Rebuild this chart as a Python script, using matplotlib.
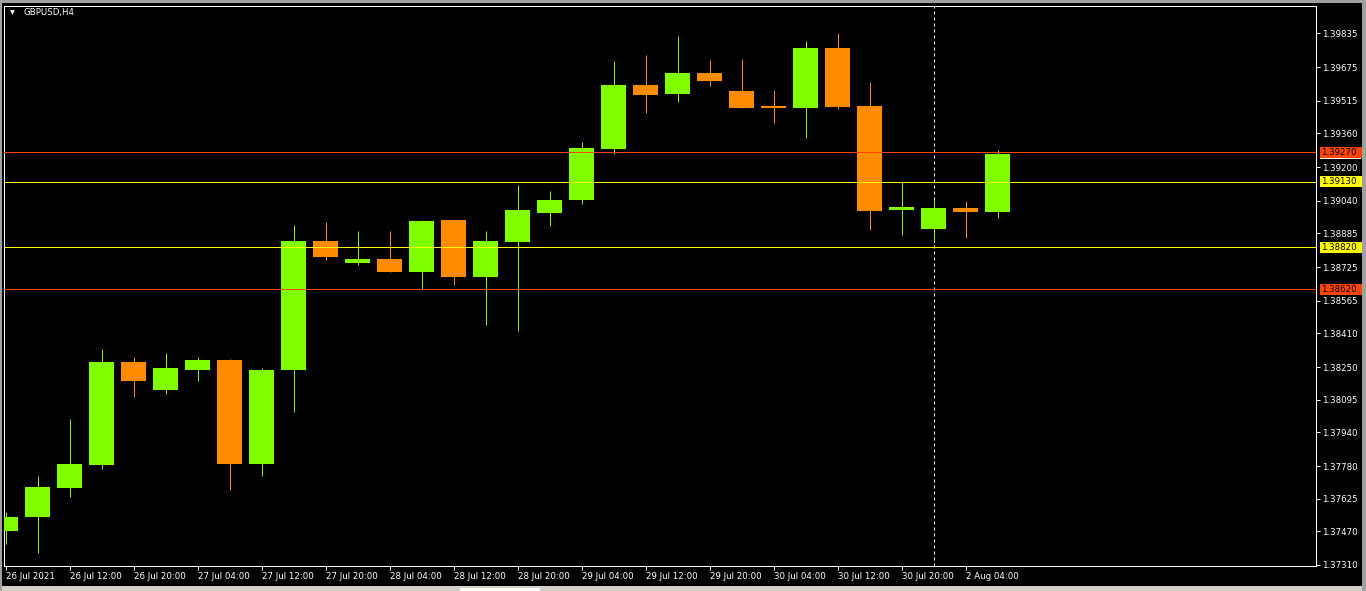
import matplotlib
matplotlib.use('Agg')
import matplotlib.pyplot as plt
import matplotlib.transforms as mtransforms
from matplotlib.patches import Rectangle
from matplotlib import font_manager

# GBPUSD H4 candles, 26 Jul 04:00 .. 2 Aug 08:00
opens  = [1.37471, 1.37538, 1.37676, 1.37785, 1.38274, 1.38141, 1.38236, 1.38284,
          1.37790, 1.38236, 1.38849, 1.38744, 1.38763, 1.38702, 1.38948, 1.38678,
          1.38844, 1.38982, 1.39043, 1.39286, 1.39590, 1.39547, 1.39647, 1.39561,
          1.39490, 1.39480, 1.39765, 1.39490, 1.38996, 1.38906, 1.39005, 1.38986]
highs  = [1.37562, 1.37733, 1.38003, 1.38336, 1.38298, 1.38317, 1.38298, 1.38288,
          1.38246, 1.38925, 1.38939, 1.38896, 1.38896, 1.38948, 1.38948, 1.38896,
          1.39115, 1.39086, 1.39319, 1.39704, 1.39732, 1.39822, 1.39708, 1.39713,
          1.39566, 1.39799, 1.39837, 1.39604, 1.39129, 1.39048, 1.39039, 1.39281]
lows   = [1.37410, 1.37367, 1.37633, 1.37766, 1.38108, 1.38122, 1.38184, 1.37666,
          1.37733, 1.38037, 1.38758, 1.38735, 1.38702, 1.38621, 1.38640, 1.38450,
          1.38421, 1.38920, 1.39024, 1.39262, 1.39457, 1.39509, 1.39585, 1.39480,
          1.39409, 1.39338, 1.39476, 1.38901, 1.38877, 1.38844, 1.38863, 1.38958]
closes = [1.37538, 1.37680, 1.37790, 1.38274, 1.38184, 1.38246, 1.38284, 1.37790,
          1.38236, 1.38849, 1.38773, 1.38763, 1.38702, 1.38944, 1.38678, 1.38849,
          1.38996, 1.39043, 1.39290, 1.39590, 1.39542, 1.39647, 1.39609, 1.39480,
          1.39480, 1.39765, 1.39485, 1.38991, 1.39010, 1.39005, 1.38986, 1.39262]

time_labels = ['26 Jul 2021', '26 Jul 12:00', '26 Jul 20:00', '27 Jul 04:00',
               '27 Jul 12:00', '27 Jul 20:00', '28 Jul 04:00', '28 Jul 12:00',
               '28 Jul 20:00', '29 Jul 04:00', '29 Jul 12:00', '29 Jul 20:00',
               '30 Jul 04:00', '30 Jul 12:00', '30 Jul 20:00', '2 Aug 04:00']
price_ticks = [1.39835, 1.39675, 1.39515, 1.39360, 1.39200, 1.39040, 1.38885,
               1.38725, 1.38565, 1.38410, 1.38250, 1.38095, 1.37940, 1.37780,
               1.37625, 1.37470, 1.37310]

level_prices = [1.39270, 1.39130, 1.38820, 1.38620]
level_colors = ['#ff4500', '#ffff00', '#ffff00', '#ff4500']
separator_bar = 29

BULL = '#7fff00'
BEAR = '#ff8c00'

names = {f.name for f in font_manager.fontManager.ttflist}
if 'Liberation Sans Narrow' in names:
    FONT, FS = 'Liberation Sans Narrow', 6.9
else:
    FONT, FS = 'DejaVu Sans', 6.2
plt.rcParams['font.family'] = [FONT, 'DejaVu Sans']

W, H = 1366, 591
fig = plt.figure(figsize=(W / 100, H / 100), dpi=100)
fig.patch.set_facecolor('black')

# plot area in pixels
L, R, T, B = 4, 1316, 6, 566
ax = fig.add_axes([L / W, 1 - B / H, (R - L) / W, (B - T) / H])
ax.set_facecolor('black')

px = 0.72  # one pixel in points
for sp in ax.spines.values():
    sp.set_color('white')
    sp.set_linewidth(px)

n = len(opens)
for i in range(n):
    o, h, l, c = opens[i], highs[i], lows[i], closes[i]
    col = BULL if c >= o else BEAR
    ax.vlines(i, l, h, color=col, linewidth=px, zorder=2)
    lo, hi = min(o, c), max(o, c)
    ax.add_patch(Rectangle((i - 0.39, lo), 0.78, max(hi - lo, 0.00002),
                           facecolor=col, edgecolor='none', zorder=3))

ax.axvline(separator_bar, color='white', linewidth=px, linestyle=(0, (3, 3)), zorder=1)

blend = mtransforms.blended_transform_factory(ax.transAxes, ax.transData)
axw = R - L
for p, col in zip(level_prices, level_colors):
    ax.axhline(p, color=col, linewidth=px, zorder=4)

# bid label peeking out below the top level
ax.add_patch(Rectangle(((1320 - L) / axw, 1.39236), 41 / axw, 0.00011,
                       transform=blend, facecolor='white', edgecolor='none',
                       clip_on=False, zorder=5))
for p, col in zip(level_prices, level_colors):
    ax.add_patch(Rectangle(((1320 - L) / axw, p - 0.00026), 42 / axw, 0.00052,
                           transform=blend, facecolor=col, edgecolor='none',
                           clip_on=False, zorder=6))
    ax.text((1321 - L) / axw, p, '%.5f' % p, transform=blend, color='black',
            fontsize=FS, va='center', ha='left', clip_on=False, zorder=7)

ax.set_xlim((L - 5.5) / 32, (R - 5.5) / 32)
ax.set_ylim(1.37305, 1.39965)

ax.yaxis.tick_right()
ax.set_yticks(price_ticks)
ax.set_yticklabels(['%.5f' % p for p in price_ticks])
ax.tick_params(axis='y', colors='white', labelsize=FS, length=3, width=px, pad=1.5)

ax.set_xticks(range(0, 2 * len(time_labels), 2))
ax.set_xticklabels(time_labels)
ax.tick_params(axis='x', colors='white', labelsize=FS, length=3, width=px, pad=1.5)
for lab in ax.get_xticklabels():
    lab.set_ha('left')

# symbol caption
ax.text(6 / axw, 1 - 7 / (B - T), '\u25bc', transform=ax.transAxes, color='white',
        fontsize=4.5, va='center', ha='left', family='DejaVu Sans')
ax.text(19 / axw, 1 - 7 / (B - T), 'GBPUSD,H4', transform=ax.transAxes, color='white',
        fontsize=FS, va='center', ha='left')

# window frame bits
fig.patches.append(Rectangle((0, 0), 1, 5 / H, transform=fig.transFigure,
                             facecolor='#d4d0c8', edgecolor='none'))
fig.patches.append(Rectangle((460 / W, 0), 80 / W, 3 / H, transform=fig.transFigure,
                             facecolor='white', edgecolor='none'))
fig.patches.append(Rectangle((0, 0), 2 / W, 1, transform=fig.transFigure,
                             facecolor='#a0a0a0', edgecolor='none'))
fig.patches.append(Rectangle((0, 1 - 3 / H), 1, 3 / H, transform=fig.transFigure,
                             facecolor='#a0a0a0', edgecolor='none'))
fig.patches.append(Rectangle((1 - 4 / W, 0), 4 / W, 1, transform=fig.transFigure,
                             facecolor='#a0a0a0', edgecolor='none'))

fig.savefig('out.png', dpi=100, facecolor=fig.get_facecolor())
